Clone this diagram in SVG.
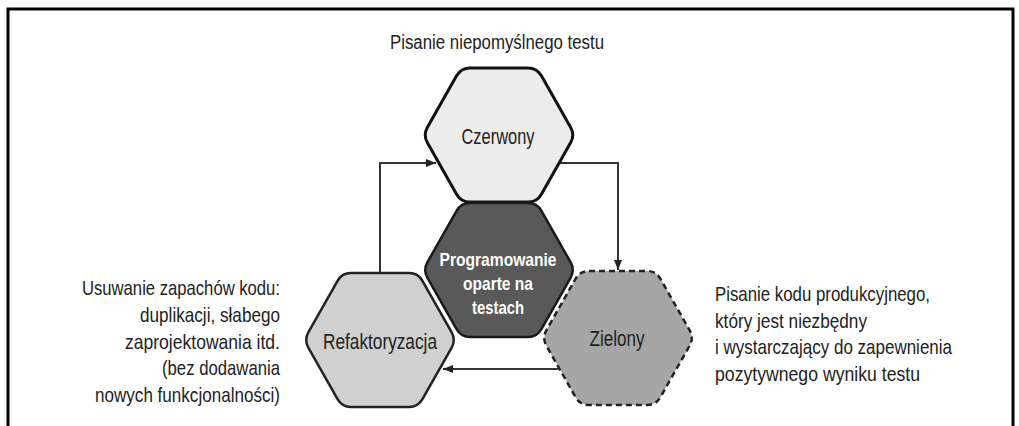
<svg xmlns="http://www.w3.org/2000/svg" width="1019" height="426" viewBox="0 0 1019 426">
<style>
.t{font-family:"Liberation Sans",Arial,sans-serif;fill:#222;font-size:21px}
.lbl{font-family:"Liberation Sans",Arial,sans-serif;fill:#222;font-size:22px;text-anchor:middle}
.w{font-family:"Liberation Sans",Arial,sans-serif;fill:#fff;font-size:19px;font-weight:bold;text-anchor:middle}
.c{fill:none;stroke:#333;stroke-width:2}
</style>
<defs>
<path id="hex" d="M-29,-67 L29,-67 Q38,-67 42.44,-59.17 L71.56,-7.83 Q76,0 71.56,7.83 L42.44,59.17 Q38,67 29,67 L-29,67 Q-38,67 -42.44,59.17 L-71.56,7.83 Q-76,0 -71.56,-7.83 L-42.44,-59.17 Q-38,-67 -29,-67 Z"/>
<marker id="arr" viewBox="0 0 10 10" refX="10" refY="5" markerWidth="10" markerHeight="10" markerUnits="userSpaceOnUse" orient="auto">
<path d="M0,1 L10,5 L0,9 Z" fill="#222"/>
</marker>
</defs>
<rect width="1019" height="426" fill="#fff"/>
<path d="M8,426 V9 H1013 V426" fill="none" stroke="#000" stroke-width="3"/>
<text class="t" x="390" y="49" textLength="214" lengthAdjust="spacingAndGlyphs" style="font-size:20px">Pisanie niepomyślnego testu</text>
<g id="connectors">
<path class="c" d="M380,274 V163 H436" marker-end="url(#arr)"/>
<path class="c" d="M560,163 H618 V270" marker-end="url(#arr)"/>
<path class="c" d="M558,369 H443" marker-end="url(#arr)"/>
</g>
<g id="czerwony">
<use href="#hex" transform="translate(499,135)" fill="#ececec" stroke="#111" stroke-width="3"/>
<text class="lbl" x="498" y="144" textLength="73" lengthAdjust="spacingAndGlyphs">Czerwony</text>
</g>
<g id="refaktoryzacja">
<use href="#hex" transform="translate(380,340)" fill="#d0d0d0" stroke="#222" stroke-width="2.5"/>
<text class="lbl" x="380" y="349" textLength="114" lengthAdjust="spacingAndGlyphs">Refaktoryzacja</text>
</g>
<g id="zielony">
<use href="#hex" transform="translate(618,338)" fill="#a6a6a6" stroke="#222" stroke-width="2.5" stroke-dasharray="6 4"/>
<text class="lbl" x="617" y="346" textLength="55" lengthAdjust="spacingAndGlyphs">Zielony</text>
</g>
<g id="tdd">
<use href="#hex" transform="translate(499,270)" fill="#595959" stroke="#1a1a1a" stroke-width="2.5"/>
<text class="w" x="498" y="266" textLength="117" lengthAdjust="spacingAndGlyphs">Programowanie</text>
<text class="w" x="498" y="290" textLength="70" lengthAdjust="spacingAndGlyphs">oparte na</text>
<text class="w" x="498" y="314" textLength="52" lengthAdjust="spacingAndGlyphs">testach</text>
</g>
<g id="refaktoryzacja-opis">
<text class="t" x="82" y="295" textLength="198" lengthAdjust="spacingAndGlyphs">Usuwanie zapachów kodu:</text>
<text class="t" x="140" y="322" textLength="140" lengthAdjust="spacingAndGlyphs">duplikacji, słabego</text>
<text class="t" x="125" y="349" textLength="155" lengthAdjust="spacingAndGlyphs">zaprojektowania itd.</text>
<text class="t" x="162" y="375" textLength="118" lengthAdjust="spacingAndGlyphs">(bez dodawania</text>
<text class="t" x="95" y="402" textLength="185" lengthAdjust="spacingAndGlyphs">nowych funkcjonalności)</text>
</g>
<g id="zielony-opis">
<text class="t" x="715" y="301" textLength="215" lengthAdjust="spacingAndGlyphs">Pisanie kodu produkcyjnego,</text>
<text class="t" x="715" y="328" textLength="152" lengthAdjust="spacingAndGlyphs">który jest niezbędny</text>
<text class="t" x="715" y="354" textLength="237" lengthAdjust="spacingAndGlyphs">i wystarczający do zapewnienia</text>
<text class="t" x="715" y="381" textLength="205" lengthAdjust="spacingAndGlyphs">pozytywnego wyniku testu</text>
</g>
</svg>
